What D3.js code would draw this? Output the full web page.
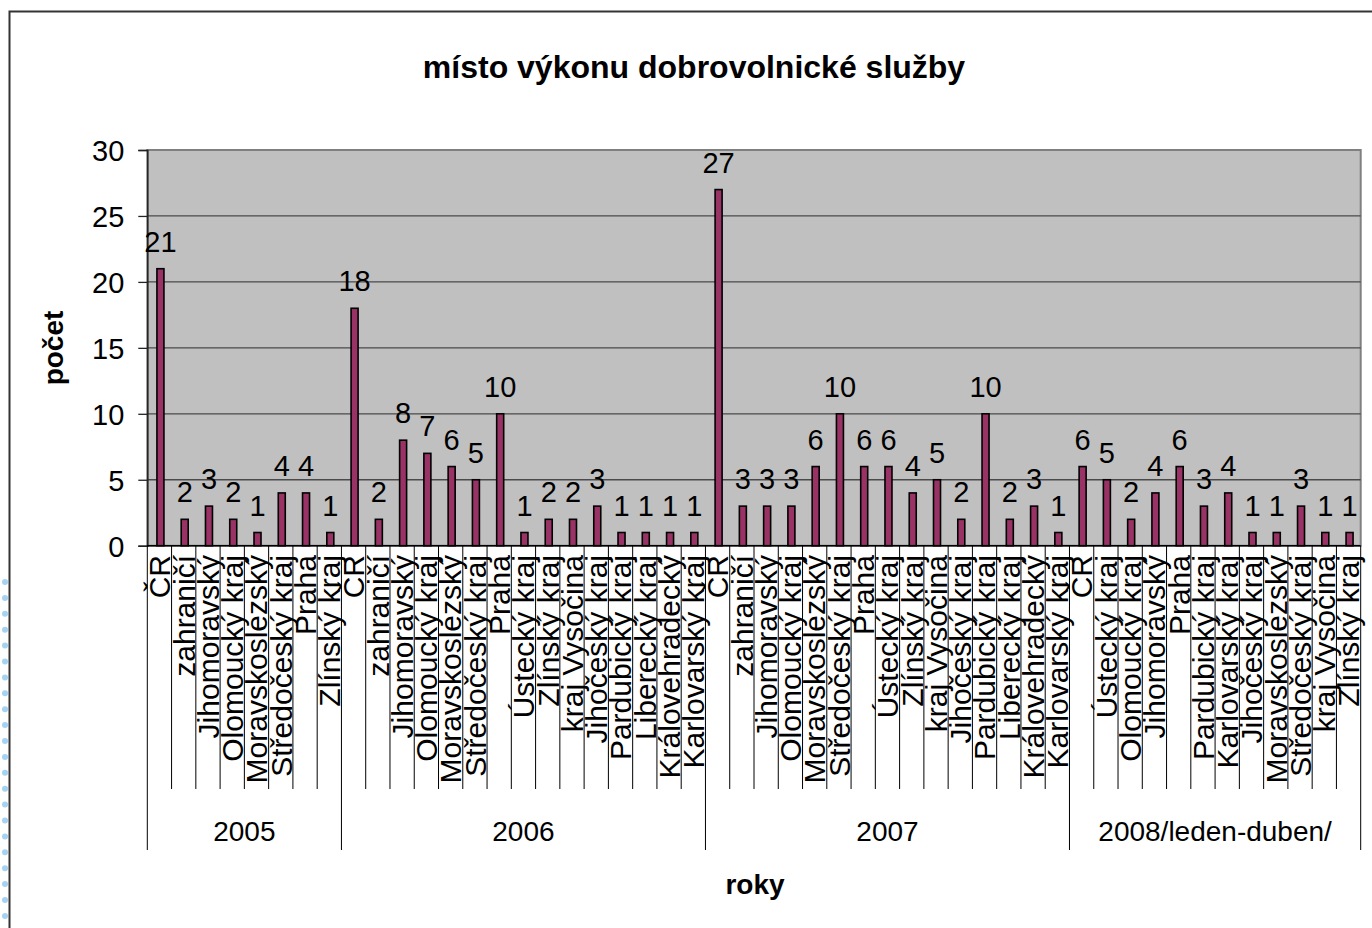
<!DOCTYPE html>
<html><head><meta charset="utf-8">
<script src="https://cdn.jsdelivr.net/npm/d3@7"></script>
<style>
html,body{margin:0;padding:0;background:#fff;}
text{font-family:"Liberation Sans",Arial,sans-serif;fill:#000;}
</style></head>
<body>
<svg id="chart" width="1372" height="928"></svg>
<script>
const chartTitle = "místo výkonu dobrovolnické služby";
const yTitle = "počet";
const xTitle = "roky";
const years = ["2005", "2006", "2007", "2008/leden-duben/"];
const regions2005 = ["ČR","zahraničí","Jihomoravský","Olomoucký kraj","Moravskoslezský","Středočeský kraj","Praha","Zlínský kraj"];
const values2005 = [21,2,3,2,1,4,4,1];
const regions2006 = ["ČR","zahraničí","Jihomoravský","Olomoucký kraj","Moravskoslezský","Středočeský kraj","Praha","Ústecký kraj","Zlínský kraj","kraj Vysočina","Jihočeský kraj","Pardubický kraj","Liberecký kraj","Královehradecký","Karlovarský kraj"];
const values2006 = [18,2,8,7,6,5,10,1,2,2,3,1,1,1,1];
const regions2007 = ["ČR","zahraničí","Jihomoravský","Olomoucký kraj","Moravskoslezský","Středočeský kraj","Praha","Ústecký kraj","Zlínský kraj","kraj Vysočina","Jihočeský kraj","Pardubický kraj","Liberecký kraj","Královehradecký","Karlovarský kraj"];
const values2007 = [27,3,3,3,6,10,6,6,4,5,2,10,2,3,1];
const regions2008 = ["ČR","Ústecký kraj","Olomoucký kraj","Jihomoravský","Praha","Pardubický kraj","Karlovarský kraj","Jihočeský kraj","Moravskoslezský","Středočeský kraj","kraj Vysočina","Zlínský kraj"];
const values2008 = [6,5,2,4,6,3,4,1,1,3,1,1];
const yTicks = [0,5,10,15,20,25,30];

const groups = [
  {year: years[0], regions: regions2005, values: values2005},
  {year: years[1], regions: regions2006, values: values2006},
  {year: years[2], regions: regions2007, values: values2007},
  {year: years[3], regions: regions2008, values: values2008}
];
const data = [];
groups.forEach((g, gi) => g.regions.forEach((r, i) => data.push({group: gi, region: r, value: g.values[i], idx: data.length})));

const svg = d3.select("#chart");
const L = 147.3, R = 1360.7, T = 150, B = 545.7;

// chart frame
svg.append("rect").attr("x",0).attr("y",0).attr("width",1372).attr("height",928).attr("fill","#fff");
svg.append("path").attr("d","M9.5,940 V11.5 H1400").attr("fill","none").attr("stroke","#333").attr("stroke-width",2);
// light blue dotted decoration at left edge
svg.append("g").selectAll("circle").data(d3.range(22)).join("circle")
  .attr("cx",5).attr("cy",d=>582+d*15.9).attr("r",3).attr("fill","#a6d3f2");

const x = d3.scaleBand().domain(data.map(d=>d.idx)).range([L,R]).padding(0);
const y = d3.scaleLinear().domain([0,30]).range([B,T]);
const bw = x.bandwidth();

// plot area
svg.append("rect").attr("x",L).attr("y",T).attr("width",R-L).attr("height",B-T)
  .attr("fill","#c0c0c0").attr("stroke","#808080").attr("stroke-width",2);
// gridlines
svg.append("g").selectAll("line").data(yTicks.filter(t=>t>0 && t<30)).join("line")
  .attr("x1",L).attr("x2",R).attr("y1",d=>y(d)).attr("y2",d=>y(d))
  .attr("stroke","#4a4a4a").attr("stroke-width",1.3);

// y axis
const yAxis = svg.append("g").attr("transform",`translate(${L},0)`)
  .call(d3.axisLeft(y).tickValues(yTicks).tickSize(9).tickPadding(14).tickFormat(d3.format("d")));
yAxis.select(".domain").attr("stroke","#222").attr("stroke-width",1.5);
yAxis.selectAll(".tick line").attr("stroke","#222").attr("stroke-width",1.3);
yAxis.selectAll(".tick text").style("font-size","29px").attr("font-family",null).attr("dy","0.36em");

// bars
svg.append("g").selectAll("rect").data(data).join("rect")
  .attr("x",d=>x(d.idx)+bw/2-2.5).attr("width",7)
  .attr("y",d=>y(d.value)).attr("height",d=>y(0)-y(d.value))
  .attr("fill","#993366").attr("stroke","#000").attr("stroke-width",1.6);

// value labels
svg.append("g").selectAll("text").data(data).join("text")
  .attr("x",d=>x(d.idx)+bw/2+1).attr("y",d=>y(d.value)-17)
  .attr("text-anchor","middle").style("font-size","29px").text(d=>d.value);

// bottom axis line
svg.append("line").attr("x1",L).attr("x2",R).attr("y1",B).attr("y2",B).attr("stroke","#000").attr("stroke-width",1.5);

// category separators
const groupStarts = [];
let acc = 0;
groups.forEach(g => { groupStarts.push(acc); acc += g.regions.length; });
const boundaries = d3.range(data.length + 1);
svg.append("g").selectAll("line").data(boundaries).join("line")
  .attr("x1",d=>d<data.length ? x(d) : R).attr("x2",d=>d<data.length ? x(d) : R)
  .attr("y1",B).attr("y2",d=>(groupStarts.includes(d) || d===data.length) ? 850 : 789)
  .attr("stroke","#000").attr("stroke-width",1);

// category labels
svg.append("g").selectAll("text").data(data).join("text")
  .attr("transform",d=>`translate(${x(d.idx)+bw/2},555) rotate(-90)`)
  .attr("text-anchor","end").attr("dy","0.36em").style("font-size","30px").text(d=>d.region);

// group labels
svg.append("g").selectAll("text").data(groups).join("text")
  .attr("x",(g,i)=>{const s=groupStarts[i]; const e=s+g.regions.length; return (x(s) + (e<data.length?x(e):R))/2;})
  .attr("y",841).attr("text-anchor","middle").style("font-size","28px").text(g=>g.year);

// titles
svg.append("text").attr("x",694).attr("y",78).attr("text-anchor","middle")
  .style("font-size","32px").style("font-weight","bold").text(chartTitle);
svg.append("text").attr("x",755).attr("y",894).attr("text-anchor","middle")
  .style("font-size","28px").style("font-weight","bold").text(xTitle);
svg.append("text").attr("transform","translate(63,348) rotate(-90)").attr("text-anchor","middle")
  .style("font-size","28px").style("font-weight","bold").text(yTitle);
</script>
</body></html>
